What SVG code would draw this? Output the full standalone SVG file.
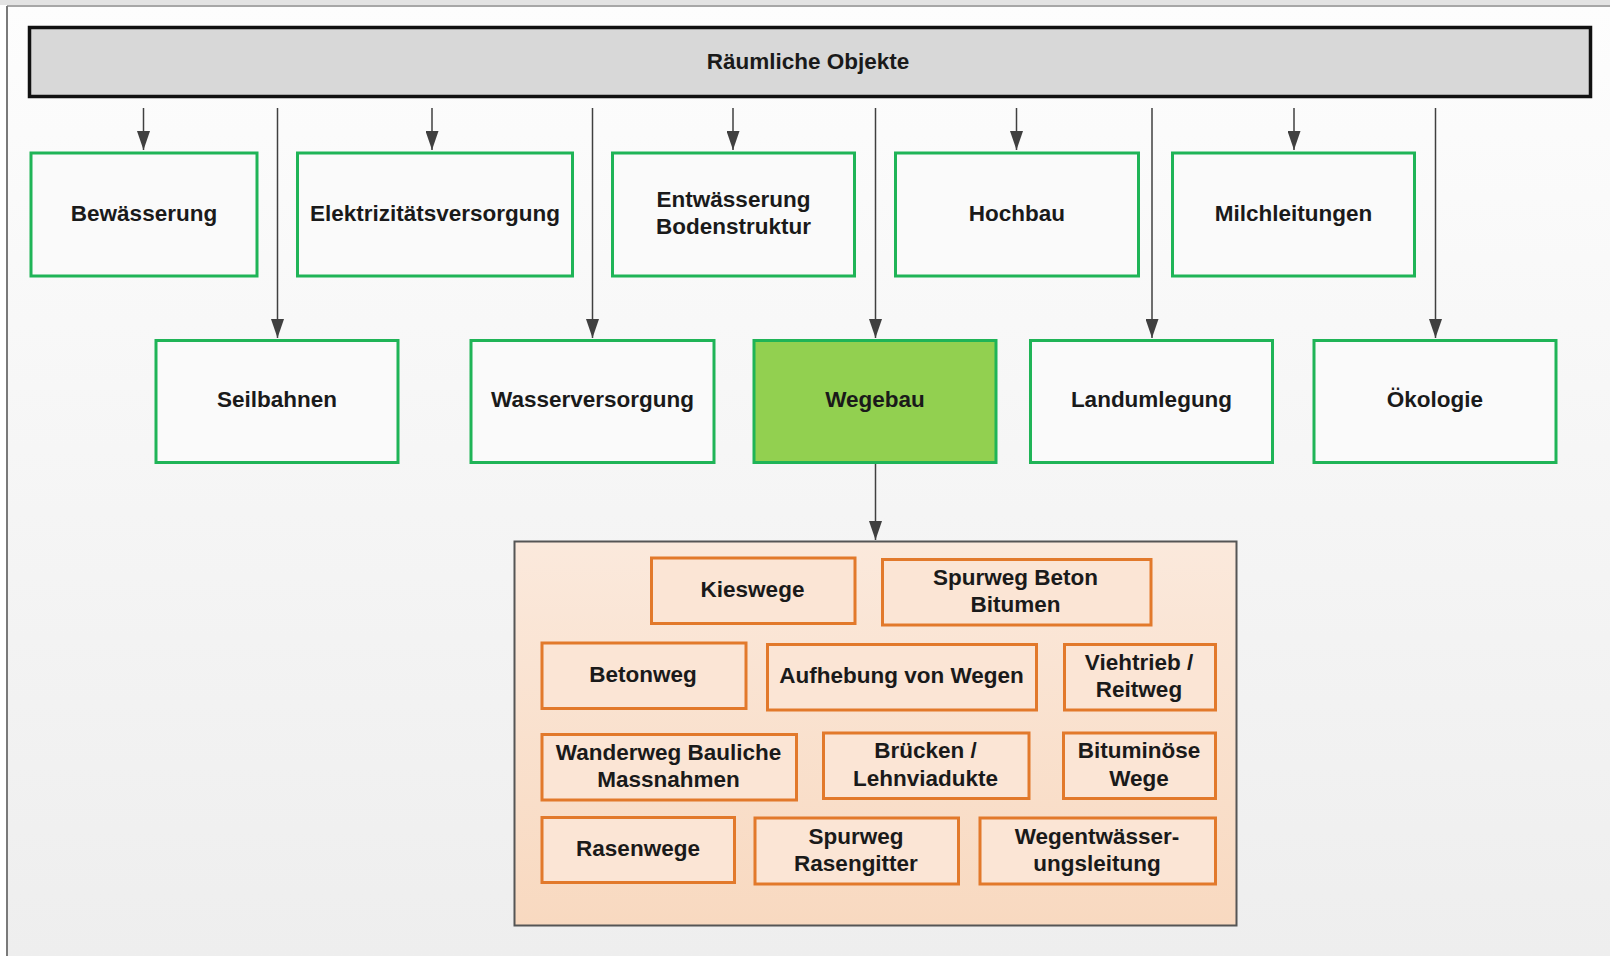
<svg xmlns="http://www.w3.org/2000/svg" width="1610" height="956" viewBox="0 0 1610 956">
<defs>
<linearGradient id="bg" x1="0" y1="0" x2="0" y2="1">
<stop offset="0" stop-color="#fdfdfd"/>
<stop offset="1" stop-color="#eeeeee"/>
</linearGradient>
<linearGradient id="peach" x1="0" y1="0" x2="0" y2="1">
<stop offset="0" stop-color="#fbe9dc"/>
<stop offset="1" stop-color="#f8d9c0"/>
</linearGradient>
<marker id="ah" viewBox="0 0 19 13" refX="19" refY="6.5" markerWidth="19" markerHeight="13" markerUnits="userSpaceOnUse" orient="auto">
<path d="M0,0 L19,6.5 L0,13 z" fill="#404040"/>
</marker>
<style>
.t{font-family:"Liberation Sans",Arial,Helvetica,sans-serif;font-weight:bold;font-size:22.5px;fill:#1a1a1a;text-anchor:middle}
.g{fill:#fafafa;stroke:#1fb457;stroke-width:3}
.sel{fill:#92d050;stroke:#1fb457;stroke-width:3}
.o{fill:#fbe5d5;stroke:#e2792b;stroke-width:3}
.c{stroke:#404040;stroke-width:1.5;fill:none;marker-end:url(#ah)}
</style>
</defs>
<rect x="0" y="0" width="1610" height="956" fill="#ffffff"/>
<rect x="7" y="6" width="1603" height="950" fill="url(#bg)"/>
<rect x="0" y="0" width="1610" height="5" fill="#e3e3e3"/>
<line x1="7" y1="6" x2="1610" y2="6" stroke="#8a8a8a" stroke-width="1.5"/>
<line x1="7" y1="6" x2="7" y2="956" stroke="#7a7a7a" stroke-width="2"/>

<g id="connectors">
<line class="c" x1="143.5" y1="108" x2="143.5" y2="150"/>
<line class="c" x1="432" y1="108" x2="432" y2="150"/>
<line class="c" x1="733" y1="108" x2="733" y2="150"/>
<line class="c" x1="1016.5" y1="108" x2="1016.5" y2="150"/>
<line class="c" x1="1294" y1="108" x2="1294" y2="150"/>
<line class="c" x1="277.5" y1="108" x2="277.5" y2="338"/>
<line class="c" x1="592.5" y1="108" x2="592.5" y2="338"/>
<line class="c" x1="875.5" y1="108" x2="875.5" y2="338"/>
<line class="c" x1="1152" y1="108" x2="1152" y2="338"/>
<line class="c" x1="1435.5" y1="108" x2="1435.5" y2="338"/>
<line class="c" x1="875.5" y1="464" x2="875.5" y2="540"/>
</g>

<g id="root">
<rect x="29.5" y="27.5" width="1561" height="69" fill="#d8d8d8" stroke="#111111" stroke-width="3.5"/>
<text class="t" x="808" y="69">Räumliche Objekte</text>
</g>

<g id="bewaesserung"><rect class="g" x="31" y="153" width="226" height="123"/><text class="t" x="144" y="220.5">Bewässerung</text></g>
<g id="elektrizitaet"><rect class="g" x="297.5" y="153" width="275" height="123"/><text class="t" x="435" y="220.5">Elektrizitätsversorgung</text></g>
<g id="entwaesserung"><rect class="g" x="612.5" y="153" width="242" height="123"/><text class="t" x="733.5" y="207">Entwässerung</text><text class="t" x="733.5" y="234">Bodenstruktur</text></g>
<g id="hochbau"><rect class="g" x="895.5" y="153" width="243" height="123"/><text class="t" x="1017" y="220.5">Hochbau</text></g>
<g id="milchleitungen"><rect class="g" x="1172.5" y="153" width="242" height="123"/><text class="t" x="1293.5" y="220.5">Milchleitungen</text></g>

<g id="seilbahnen"><rect class="g" x="156" y="340.5" width="242" height="122"/><text class="t" x="277" y="407">Seilbahnen</text></g>
<g id="wasserversorgung"><rect class="g" x="471" y="340.5" width="243" height="122"/><text class="t" x="592.5" y="407">Wasserversorgung</text></g>
<g id="wegebau"><rect class="sel" x="754" y="340.5" width="242" height="122"/><text class="t" x="875" y="407">Wegebau</text></g>
<g id="landumlegung"><rect class="g" x="1030.5" y="340.5" width="242" height="122"/><text class="t" x="1151.5" y="407">Landumlegung</text></g>
<g id="oekologie"><rect class="g" x="1314" y="340.5" width="242" height="122"/><text class="t" x="1435" y="407">Ökologie</text></g>

<g id="wegebau-container">
<rect x="514.5" y="541.5" width="722" height="384" fill="url(#peach)" stroke="#555555" stroke-width="2"/>
</g>

<g id="kieswege"><rect class="o" x="651.5" y="558" width="203.5" height="65.5"/><text class="t" x="752.5" y="597">Kieswege</text></g>
<g id="spurweg-beton"><rect class="o" x="882.5" y="559.5" width="268.5" height="65.5"/><text class="t" x="1015.5" y="584.5">Spurweg Beton</text><text class="t" x="1015.5" y="612">Bitumen</text></g>
<g id="betonweg"><rect class="o" x="542" y="643" width="204" height="65.5"/><text class="t" x="643" y="682">Betonweg</text></g>
<g id="aufhebung"><rect class="o" x="767.5" y="644.5" width="269" height="65.5"/><text class="t" x="901.5" y="683">Aufhebung von Wegen</text></g>
<g id="viehtrieb"><rect class="o" x="1064.5" y="644.5" width="151" height="65.5"/><text class="t" x="1139" y="669.5">Viehtrieb /</text><text class="t" x="1139" y="697">Reitweg</text></g>
<g id="wanderweg"><rect class="o" x="542" y="734.5" width="254.5" height="65.5"/><text class="t" x="668.5" y="760">Wanderweg Bauliche</text><text class="t" x="668.5" y="786.5">Massnahmen</text></g>
<g id="bruecken"><rect class="o" x="823.5" y="733" width="205.5" height="65.5"/><text class="t" x="925.5" y="758">Brücken /</text><text class="t" x="925.5" y="785.5">Lehnviadukte</text></g>
<g id="bituminoese"><rect class="o" x="1063.5" y="733" width="152" height="65.5"/><text class="t" x="1139" y="758">Bituminöse</text><text class="t" x="1139" y="785.5">Wege</text></g>
<g id="rasenwege"><rect class="o" x="542" y="817.5" width="192.5" height="65"/><text class="t" x="638" y="855.5">Rasenwege</text></g>
<g id="spurweg-rasengitter"><rect class="o" x="755" y="818" width="203.5" height="66"/><text class="t" x="856" y="844">Spurweg</text><text class="t" x="856" y="871">Rasengitter</text></g>
<g id="wegentwaesserung"><rect class="o" x="980" y="818" width="235.5" height="66"/><text class="t" x="1097" y="844">Wegentwässer-</text><text class="t" x="1097" y="871">ungsleitung</text></g>
</svg>
